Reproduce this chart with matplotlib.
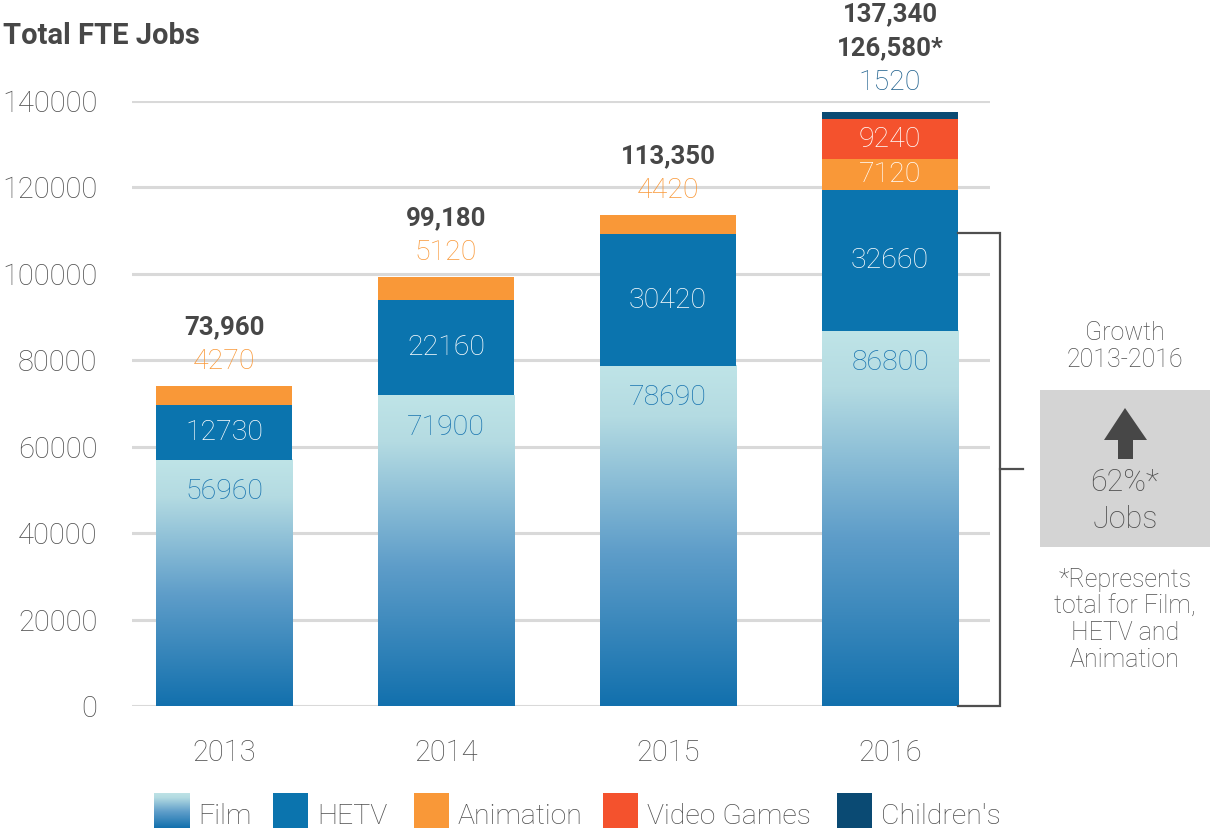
import numpy as np
import matplotlib
matplotlib.use("Agg")
import matplotlib.pyplot as plt
from matplotlib.colors import LinearSegmentedColormap
from matplotlib.patches import Rectangle, Polygon

plt.rcParams['font.family'] = ['Roboto', 'DejaVu Sans']

W, H = 1210, 834

years = ['2013', '2014', '2015', '2016']
film = [56960, 71900, 78690, 86800]
hetv = [12730, 22160, 30420, 32660]
animation = [4270, 5120, 4420, 7120]
video_games = [0, 0, 0, 9240]
childrens = [0, 0, 0, 1520]
totals = ['73,960', '99,180', '113,350', '137,340']
sub_totals = ['', '', '', '126,580*']
yticks = [0, 20000, 40000, 60000, 80000, 100000, 120000, 140000]
legend_names = ['Film', 'HETV', 'Animation', 'Video Games', "Children's"]

GREY = '#4f4f4f'
DARK = '#474747'
C_HETV = '#0b74ae'
C_ANIM = '#f99838'
C_VG = '#f4522d'
C_CH = '#0a4a73'
C_FILM_TXT = '#1a75b0'
film_cmap = LinearSegmentedColormap.from_list(
    'film', [(0, '#1270ad'), (0.45, '#5e9dc9'), (0.85, '#b4dbe2'), (1, '#bfe4e7')])


def fx(x):
    return x / W


def fy(y):
    return 1 - y / H


fig = plt.figure(figsize=(W / 100, H / 100), dpi=100)
ax = fig.add_axes([fx(132), fy(706), fx(990) - fx(132), fy(101) - fy(706)])

x = np.arange(len(years))
bw = 0.615
grad = np.linspace(0, 1, 256).reshape(-1, 1)

for yv in yticks:
    ax.axhline(yv, color='#d9d9d9', lw=2.2, zorder=0)

for i in range(len(years)):
    # film bar with vertical gradient
    ax.imshow(grad, extent=[x[i] - bw / 2, x[i] + bw / 2, 0, film[i]], origin='lower',
              cmap=film_cmap, aspect='auto', zorder=2)
    bottom = film[i]
    for vals, col in [(hetv, C_HETV), (animation, C_ANIM), (video_games, C_VG), (childrens, C_CH)]:
        if vals[i] > 0:
            ax.bar(x[i], vals[i], bw, bottom=bottom, color=col, zorder=2, linewidth=0)
        bottom += vals[i]

ax.set_xlim(-0.415, 3.45)
ax.set_ylim(0, 140000)
ax.set_yticks(yticks)
ax.set_xticks(x)
ax.set_xticklabels(years)
for s in ax.spines.values():
    s.set_visible(False)
ax.tick_params(length=0, labelsize=21, labelcolor=GREY)
ax.tick_params(axis='y', pad=25)
ax.tick_params(axis='x', pad=24)
for t in ax.get_xticklabels() + ax.get_yticklabels():
    t.set_fontweight('light')

lab = dict(ha='center', va='center', fontsize=20.5, fontweight='light')

for i in range(len(years)):
    # film label near top
    ax.annotate(str(film[i]), (x[i], film[i]), xytext=(0, -23), textcoords='offset points',
                color=C_FILM_TXT, **lab)
    ax.text(x[i], film[i] + hetv[i] / 2, str(hetv[i]), color='white', **lab)
    top = film[i] + hetv[i] + animation[i] + video_games[i] + childrens[i]
    above = []
    if video_games[i] > 0:
        b = film[i] + hetv[i]
        ax.text(x[i], b + animation[i] / 2, str(animation[i]), color='white', **lab)
        ax.text(x[i], b + animation[i] + video_games[i] / 2, str(video_games[i]), color='white', **lab)
        above.append((str(childrens[i]), '#1b5e8c', 'light'))
    else:
        above.append((str(animation[i]), C_ANIM, 'light'))
    if sub_totals[i]:
        above.append((sub_totals[i], DARK, 'bold'))
    above.append((totals[i], DARK, 'bold'))
    off = 25 if not sub_totals[i] else 30
    for k, (txt, col, wt) in enumerate(above):
        ax.annotate(txt, (x[i], top), xytext=(0, (off + 34 * k) * 0.72), textcoords='offset points',
                    ha='center', va='center', fontsize=18.5 if wt == 'bold' else 20.5,
                    fontweight=wt, color=col, annotation_clip=False)

# bracket to the right of 2016
bx0 = x[3] + bw / 2
ax.plot([bx0, 3.495, 3.495, bx0], [109500, 109500, 0, 0], color=GREY, lw=1.6,
        clip_on=False, zorder=3, solid_joinstyle='miter')
ax.plot([3.495, 3.6], [54900, 54900], color=GREY, lw=1.6, clip_on=False, zorder=3)

# title
fig.text(fx(3), fy(36), 'Total FTE Jobs', fontsize=21, fontweight='bold', color=DARK,
         ha='left', va='center')

# growth box
side = dict(fontsize=18, fontweight='light', color=GREY, ha='center', va='center')
fig.text(fx(1125), fy(333), 'Growth', **side)
fig.text(fx(1125), fy(360), '2013-2016', **side)
fig.patches.append(Rectangle((fx(1040), fy(547)), fx(1210) - fx(1040), fy(390) - fy(547),
                             transform=fig.transFigure, facecolor='#d4d4d4', edgecolor='none'))
arrow = [(1125, 408), (1147, 440), (1133, 440), (1133, 459), (1118, 459), (1118, 440), (1104, 440)]
fig.patches.append(Polygon([(fx(a), fy(b)) for a, b in arrow], closed=True,
                           transform=fig.transFigure, facecolor=DARK, edgecolor='none'))
fig.text(fx(1125), fy(483), '62%*', fontsize=22, fontweight='light', color=GREY, ha='center', va='center')
fig.text(fx(1125), fy(520), 'Jobs', fontsize=22, fontweight='light', color=GREY, ha='center', va='center')
for k, line in enumerate(['*Represents', 'total for Film,', 'HETV and', 'Animation']):
    fig.text(fx(1125), fy(580 + 26.7 * k), line, **side)

# legend
leg_x = [154, 273, 414, 603, 837]
leg_cols = [None, C_HETV, C_ANIM, C_VG, C_CH]
for name, lx, col in zip(legend_names, leg_x, leg_cols):
    if col is None:
        lax = fig.add_axes([fx(lx), fy(828), fx(35), fy(793) - fy(828)])
        lax.imshow(grad, origin='lower', cmap=film_cmap, aspect='auto', extent=[0, 1, 0, 1])
        lax.axis('off')
    else:
        fig.patches.append(Rectangle((fx(lx), fy(828)), fx(35), fy(793) - fy(828),
                                     transform=fig.transFigure, facecolor=col, edgecolor='none'))
    fig.text(fx(lx + 44), fy(816), name, fontsize=20.5, fontweight='light', color=GREY,
             ha='left', va='center')

fig.savefig('out.png', dpi=100)
